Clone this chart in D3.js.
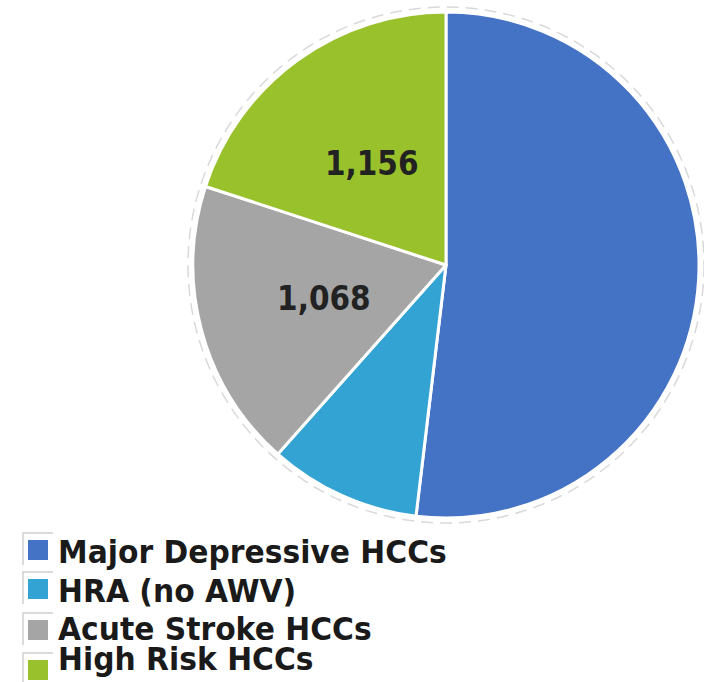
<!DOCTYPE html>
<html>
<head>
<meta charset="utf-8">
<script src="https://cdn.jsdelivr.net/npm/d3@7"></script>
<style>
  html, body { margin: 0; padding: 0; background: #fff; }
  svg { display: block; }
</style>
</head>
<body>
<svg id="chart" width="704" height="682"></svg>
<script>
// HCC category counts, drawn clockwise from 12 o'clock
const categories = ["Major Depressive HCCs", "HRA (no AWV)", "Acute Stroke HCCs", "High Risk HCCs"];
const values = [3003, 560, 1068, 1156];
const colors = ["#4472C4", "#33A3D4", "#A5A5A5", "#99C12B"];
// only these slices carry a value label
const labelled = [false, false, true, true];

const svg = d3.select("#chart");
const cx = 446, cy = 265, r = 253;

const pie = d3.pie().sort(null).value(d => d.value);
const arcs = pie(categories.map((c, i) => ({ name: c, value: values[i], color: colors[i], show: labelled[i] })));
const arc = d3.arc().innerRadius(0).outerRadius(r);

const g = svg.append("g").attr("transform", `translate(${cx},${cy})`);

// faint dashed plot-area outline
g.append("circle")
  .attr("r", r + 5)
  .attr("fill", "none")
  .attr("stroke", "#d9d9d9")
  .attr("stroke-width", 1.5)
  .attr("stroke-dasharray", "12,7");

g.selectAll("path.slice")
  .data(arcs)
  .join("path")
  .attr("class", "slice")
  .attr("d", arc)
  .attr("fill", d => d.data.color)
  .attr("stroke", "#fff")
  .attr("stroke-width", 3)
  .attr("stroke-linejoin", "round");

const fmt = d3.format(",");
g.selectAll("text.val")
  .data(arcs.filter(d => d.data.show))
  .join("text")
  .attr("class", "val")
  .attr("transform", d => `translate(${arc.centroid(d)}) scale(0.87,1)`)
  .attr("text-anchor", "middle")
  .attr("dy", "0.36em")
  .attr("font-family", "DejaVu Sans, Verdana, sans-serif")
  .attr("font-weight", "bold")
  .attr("font-size", 34)
  .attr("fill", "#222")
  .text(d => fmt(d.data.value));

// legend: swatch top and text baseline for each row
const swatchY = [540, 579, 620, 660];
const baseY = [563, 602, 640, 670];

const lg = svg.append("g");
const item = lg.selectAll("g.item")
  .data(categories)
  .join("g")
  .attr("class", "item");

// light frame around each swatch (left and top edges visible)
item.append("path")
  .attr("d", (d, i) => `M53,${swatchY[i] - 7} H23 V${swatchY[i] + 25}`)
  .attr("fill", "none")
  .attr("stroke", "#d0d0d0")
  .attr("stroke-width", 1.5);

item.append("rect")
  .attr("x", 28)
  .attr("y", (d, i) => swatchY[i])
  .attr("width", 20)
  .attr("height", 20)
  .attr("fill", (d, i) => colors[i]);

item.append("text")
  .attr("transform", (d, i) => `translate(58,${baseY[i]}) scale(0.946,1)`)
  .attr("font-family", "DejaVu Sans, Verdana, sans-serif")
  .attr("font-weight", "bold")
  .attr("font-size", 31.5)
  .attr("fill", "#1a1a1a")
  .text(d => d);
</script>
</body>
</html>
